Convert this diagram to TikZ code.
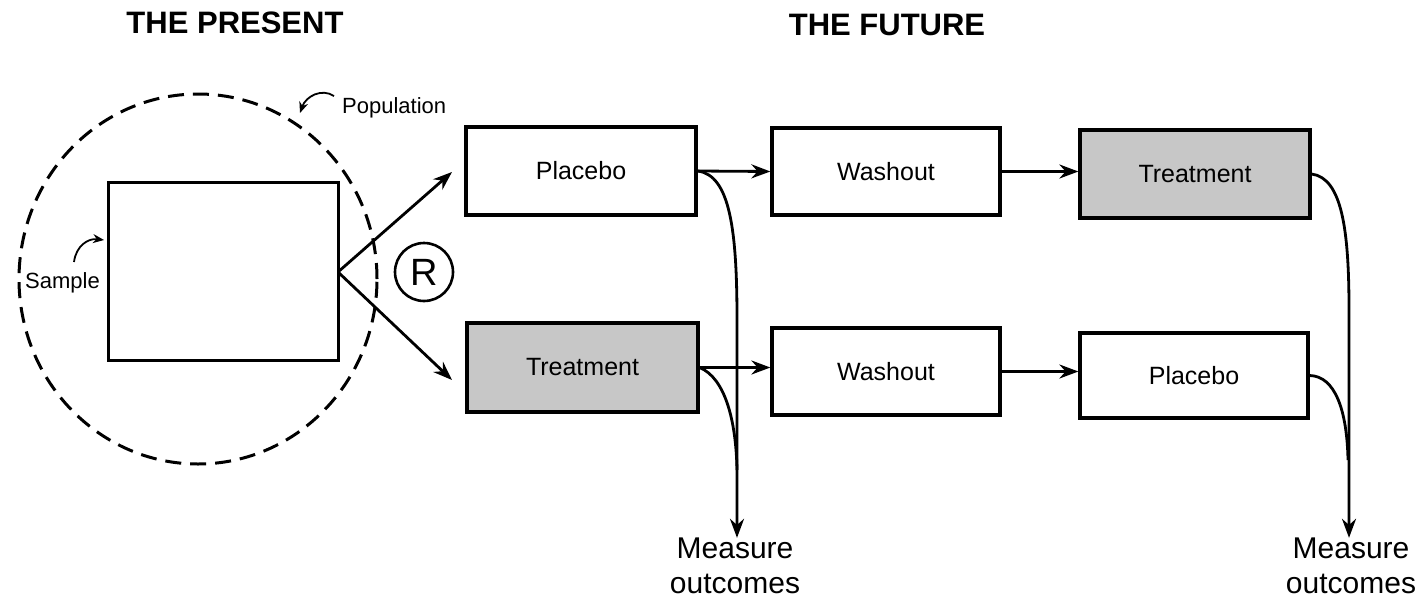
\documentclass[tikz,border=0pt]{standalone}
\usepackage{fontspec}
\setmainfont{Liberation Sans}
\usetikzlibrary{arrows.meta,shapes.geometric}
\begin{document}
\begin{tikzpicture}[x=1pt,y=-1pt,
  box/.style={draw=black,line width=3.2pt,minimum width=230pt,minimum height=88pt,inner sep=0pt,font=\fontsize{25}{30}\selectfont},
  shaded/.style={box,fill=black!22},
  conn/.style={line width=2.8pt,-{Stealth[length=19pt,width=14pt]}},
  thinconn/.style={line width=1.8pt,-{Stealth[length=11pt,width=9pt]}},
  title/.style={font=\fontsize{31}{36}\selectfont\bfseries,inner sep=0pt},
  lab/.style={font=\fontsize{22}{26}\selectfont,inner sep=0pt},
  meas/.style={font=\fontsize{30}{35}\selectfont,align=center,inner sep=0pt}]
\useasboundingbox[fill=white] (0,0) rectangle (1420,600);
% titles
\node[title] (tp) at (235,23) {THE PRESENT};
\node[title] (tf) at (887,25) {THE FUTURE};
% population
\node[draw=black,line width=3pt,dash pattern=on 16pt off 9pt,ellipse,minimum width=358pt,minimum height=370pt,inner sep=0pt] (pop) at (198,279) {};
\node[draw=black,line width=3pt,minimum width=230pt,minimum height=178pt,inner sep=0pt] (samp) at (223,271) {};
\node[lab,anchor=base west] (poplab) at (342,113) {Population};
\node[lab,anchor=base west] (samplab) at (25,288) {Sample};
\coordinate (pa1) at (334,96);
\coordinate (pa2) at (300,113);
\draw[thinconn] (pa1) .. controls (322,88) and (306,96) .. (pa2);
\coordinate (sa1) at (74,262);
\coordinate (sa2) at (104,240);
\draw[thinconn] (sa1) .. controls (76,246) and (88,238) .. (sa2);
% R
\node[draw=black,line width=2.6pt,circle,minimum size=58pt,inner sep=0pt,font=\fontsize{38}{40}\selectfont] (R) at (424,272) {R};
% boxes
\node[box] (p1) at (581,171) {Placebo};
\node[box,minimum width=228pt,minimum height=87pt] (w1) at (886,171.5) {Washout};
\node[shaded] (t1) at (1195,174) {Treatment};
\node[shaded,minimum width=231pt,minimum height=89pt] (t2) at (582.5,367.5) {Treatment};
\node[box,minimum width=228pt,minimum height=87pt] (w2) at (886,371.5) {Washout};
\node[box,minimum width=228pt,minimum height=85pt] (p2) at (1194,375.5) {Placebo};
% randomisation arrows
\coordinate (split) at (338,272);
\draw[conn] (split) -- (452,172);
\draw[conn] (split) -- (452,380);
% horizontal arrows
\draw[conn] (p1.east) -- (w1.west);
\draw[conn] (w1.east) -- (t1.west |- w1.east);
\draw[conn] (t2.east) -- (w2.west |- t2.east);
\draw[conn] (w2.east) -- (p2.west |- w2.east);
% measure outcomes
\node[meas] (m1) at (735,566) {Measure\\outcomes};
\node[meas] (m2) at (1351,566) {Measure\\outcomes};
\draw[conn] (p1.east) .. controls (730,175) and (737,230) .. (737,320) -- (m1.north -| 737,0);
\draw[line width=2.8pt] (t2.east) .. controls (725,378) and (736,420) .. (737,470);
\draw[conn] (t1.east) .. controls (1342,178) and (1349,230) .. (1349,310) -- (m2.north -| 1349,0);
\draw[line width=2.8pt] (p2.east) .. controls (1335,376) and (1347,410) .. (1348,460);
\end{tikzpicture}
\end{document}
